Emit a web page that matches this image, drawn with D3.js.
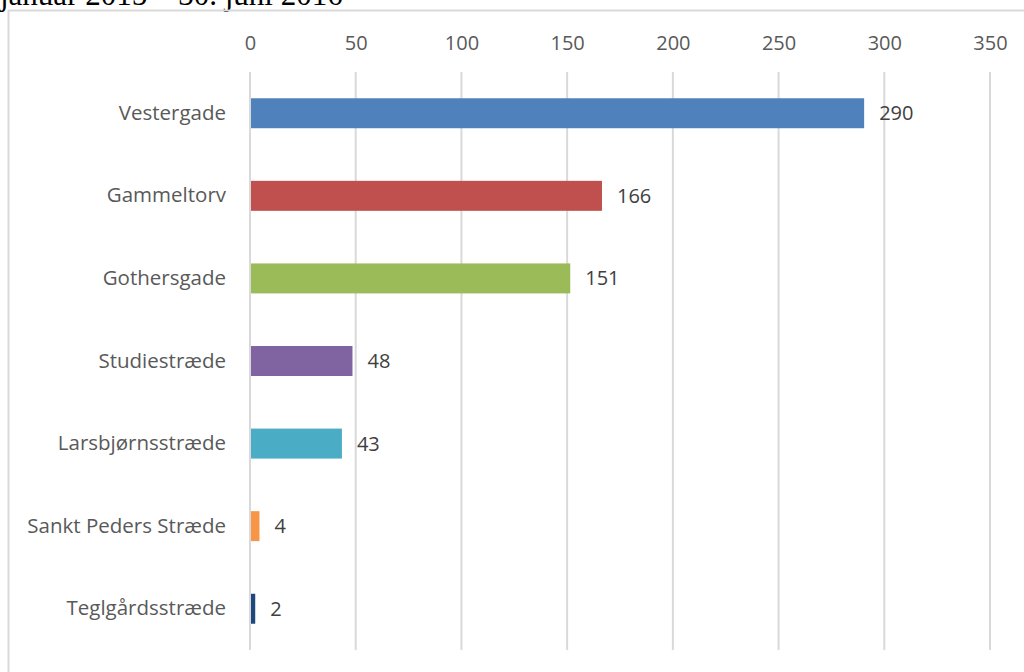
<!DOCTYPE html>
<html>
<head>
<meta charset="utf-8">
<script src="https://cdn.jsdelivr.net/npm/d3@7"></script>
<style>
  body { margin: 0; background: #fff; }
  svg { display: block; }
</style>
</head>
<body>
<svg id="chart" width="1024" height="672"></svg>
<script>
// gader og antal
var streets = ["Vestergade", "Gammeltorv", "Gothersgade", "Studiestræde", "Larsbjørnsstræde", "Sankt Peders Stræde", "Teglgårdsstræde"];
var counts = [290, 166, 151, 48, 43, 4, 2];
var colors = ["#4F81BD", "#C0504D", "#9BBB59", "#8064A2", "#4BACC6", "#F79646", "#1F497D"];
var ticks = [0, 50, 100, 150, 200, 250, 300, 350];
var title = "januar 2015 – 30. juni 2016";

var svg = d3.select("#chart");
var font = "'Open Sans', sans-serif";

// title, cut at the top like the scan
svg.append("text")
    .attr("x", 0)
    .attr("y", 5)
    .attr("font-family", "'Liberation Serif', 'Times New Roman', serif")
    .attr("font-size", 31)
    .attr("fill", "#000")
    .text(title);

// frame
svg.append("path")
    .attr("d", "M8.5,672 V10.5 H1024")
    .attr("fill", "none")
    .attr("stroke", "#d9d9d9")
    .attr("stroke-width", 2);

var x = d3.scaleLinear().domain([0, 350]).range([250, 990]);
var y = d3.scaleBand().domain(streets).range([72, 650]).paddingInner(0.637).paddingOuter(0.318);

// gridlines
svg.append("g").selectAll("line")
    .data(ticks)
    .enter().append("line")
    .attr("x1", function(d){ return x(d); })
    .attr("x2", function(d){ return x(d); })
    .attr("y1", 72)
    .attr("y2", 650)
    .attr("stroke", "#d9d9d9")
    .attr("stroke-width", 2);

// top axis labels
var xAxis = svg.append("g")
    .attr("transform", "translate(0,50)")
    .call(d3.axisTop(x).tickValues(ticks).tickSize(0).tickPadding(0));
xAxis.select(".domain").remove();
xAxis.selectAll("text")
    .attr("font-family", font)
    .attr("font-size", 20)
    .attr("fill", "#595959");

// category labels
var yAxis = svg.append("g")
    .attr("transform", "translate(226,0)")
    .call(d3.axisLeft(y).tickSize(0).tickPadding(0));
yAxis.select(".domain").remove();
yAxis.selectAll("text")
    .attr("font-family", font)
    .attr("font-size", 20.5)
    .attr("fill", "#595959");

// bars
svg.append("g").selectAll("rect")
    .data(counts)
    .enter().append("rect")
    .attr("x", x(0) + 1)
    .attr("y", function(d, i){ return y(streets[i]); })
    .attr("width", function(d){ return x(d) - x(0); })
    .attr("height", y.bandwidth())
    .attr("fill", function(d, i){ return colors[i]; });

// value labels
svg.append("g").selectAll("text")
    .data(counts)
    .enter().append("text")
    .attr("x", function(d){ return x(d) + 16; })
    .attr("y", function(d, i){ return y(streets[i]) + y.bandwidth() / 2; })
    .attr("dy", "0.35em")
    .attr("font-family", font)
    .attr("font-size", 20)
    .attr("fill", "#404040")
    .text(function(d){ return d; });
</script>
</body>
</html>
